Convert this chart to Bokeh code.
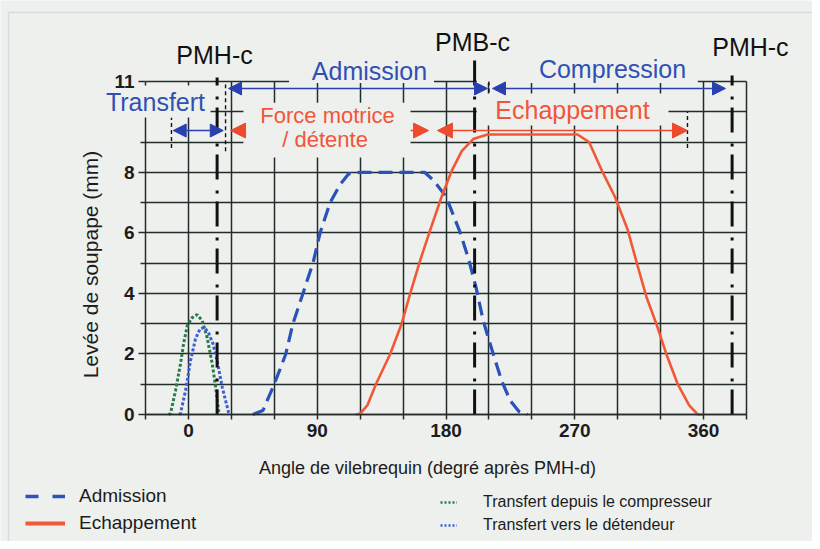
import math
from bokeh.plotting import figure
from bokeh.models import (Range1d, FixedTicker, Arrow, NormalHead, Label,
                          BoxAnnotation, Legend, LegendItem)
from bokeh.embed import file_html
from bokeh.resources import INLINE

# ---------------- data ----------------
# Admission valve lift (blue dashed)
adm_angle = [45, 52, 59, 64, 68, 73, 80, 87, 92, 99, 106, 112, 120, 140, 165,
             171, 180, 185, 190, 196, 201, 206, 213, 219, 225, 231, 237]
adm_lift = [0, 0.13, 0.9, 1.5, 2.0, 3.0, 4.0, 5.0, 6.0, 7.0, 7.6, 7.95, 8.0, 8.0, 8.0,
            7.75, 7.2, 6.6, 6.0, 5.1, 4.2, 3.1, 2.0, 1.1, 0.45, 0.1, 0]

# Exhaust valve lift (red solid)
ech_angle = [117, 120, 125, 131, 141, 149, 155, 162, 169, 177, 184, 191, 199, 209,
             272, 280, 289, 298, 307, 314, 320, 327, 334, 342, 350, 356, 360]
ech_lift = [0, 0.03, 0.3, 1.0, 2.0, 3.0, 4.0, 5.1, 6.1, 7.2, 8.05, 8.7, 9.1, 9.25,
            9.25, 9.0, 8.05, 7.2, 6.1, 4.9, 3.9, 3.0, 2.0, 1.0, 0.3, 0, 0]

# Transfer from compressor (green dotted)
tc_angle = [-14, -12.6, -9, -5.6, -3.4, -0.8, 2.6, 6, 9.6, 13, 16.6, 19, 21, 22]
tc_lift = [0, 0.03, 0.8, 1.67, 2.35, 2.94, 3.2, 3.3, 3.1, 2.55, 1.67, 0.9, 0.13, 0]

# Transfer towards expander (blue dotted)
td_angle = [-6.5, -5.6, -2, 1.4, 4.9, 8, 11, 14, 17, 20, 23.6, 28, 29]
td_lift = [0, 0.03, 0.8, 1.78, 2.5, 2.82, 2.88, 2.7, 2.35, 1.78, 0.9, 0.07, 0]

x_tick_values = [0, 90, 180, 270, 360]
x_grid_values = list(range(-30, 391, 30))
y_tick_values = [0, 2, 4, 6, 8, 11]
y_grid_values = list(range(0, 12))

dead_centre_angles = [20, 200, 380]
dead_centre_tops = [11.13, 11.93, 11.2]
dead_centre_labels = ["PMH-c", "PMB-c", "PMH-c"]

# ---------------- styles ----------------
FONT = "Liberation Sans"
BG = "#eef0ed"
GRID = "#222d2b"
BLUE_TXT = "#3050b4"
BLUE_ARR = "#2b40b0"
RED_TXT = "#f1563a"
RED_ARR = "#ee4a2e"
RED_LINE = "#f25836"
BLUE_LINE = "#2a52b8"
GREEN_DOT = "#2c7a4c"
BLUE_DOT = "#3d5fd6"

W, H = 812, 541
PX_DEG = 515 / 360.0      # pixels per degree
PX_MM = 333 / 11.0        # pixels per mm
X0_PX, Y0_PX = 188, 414   # pixel position of (0, 0)

p = figure(width=W, height=H, output_backend="svg", toolbar_location=None, title=None,
           x_range=Range1d(-X0_PX / PX_DEG, (W - X0_PX) / PX_DEG),
           y_range=Range1d(-(H - Y0_PX) / PX_MM, Y0_PX / PX_MM),
           min_border=0, min_border_left=0, min_border_right=0,
           min_border_top=0, min_border_bottom=0,
           background_fill_color=BG, border_fill_color=BG, outline_line_color=None)

# axes placed inside the frame
p.xaxis.fixed_location = 0
p.yaxis.fixed_location = -30
p.xaxis.bounds = (-30, 390)
p.yaxis.bounds = (0, 11)
p.xaxis.ticker = FixedTicker(ticks=x_tick_values,
                             minor_ticks=[v for v in x_grid_values if v not in x_tick_values])
p.yaxis.ticker = FixedTicker(ticks=y_tick_values, minor_ticks=[1, 3, 5, 7, 9])
for ax in (p.xaxis, p.yaxis):
    ax.major_tick_line_color = GRID
    ax.minor_tick_line_color = GRID
    ax.major_tick_line_width = 1.5
    ax.minor_tick_line_width = 1.5
    ax.major_tick_in = 0
    ax.minor_tick_in = 0
    ax.major_label_text_font = FONT
    ax.major_label_text_font_size = "19px"
    ax.major_label_text_font_style = "bold"
    ax.major_label_text_color = "#1c1c1c"
    ax.major_label_standoff = 4
p.xaxis.axis_line_color = GRID
p.xaxis.axis_line_width = 1.6
p.xaxis.major_tick_out = 5
p.xaxis.minor_tick_out = 5
p.yaxis.axis_line_color = None
p.yaxis.major_tick_out = 7
p.yaxis.minor_tick_out = 5

p.xgrid.ticker = FixedTicker(ticks=x_grid_values)
p.ygrid.ticker = FixedTicker(ticks=y_grid_values)
p.xgrid.cross_bounds = (0, 11)
p.ygrid.cross_bounds = (-30, 390)
p.grid.grid_line_color = GRID
p.grid.grid_line_width = 1.5
p.grid.grid_line_alpha = 1

# outer frame of the figure
p.add_layout(BoxAnnotation(left=8, right=W + 20, bottom=-20, top=H - 12,
                           left_units="screen", right_units="screen",
                           bottom_units="screen", top_units="screen",
                           fill_alpha=0, line_color="#9aabbc", line_width=1.3,
                           level="underlay"))

# masks behind the text blocks (hide the grid there)
for l, r, b, t in [(-62, 15.4, 9.81, 10.87),       # Transfert
                   (70.3, 171.6, 10.95, 11.5),     # Admission
                   (201.5, 356, 10.95, 11.5),      # Compression
                   (201.5, 335.5, 9.55, 10.6),     # Echappement
                   (38.4, 155.2, 8.49, 10.3)]:     # Force motrice
    p.add_layout(BoxAnnotation(left=l, right=r, bottom=b, top=t, fill_color=BG,
                               fill_alpha=1, line_color=None, level="underlay"))

# curves
r_tc = p.line(tc_angle, tc_lift, line_color=GREEN_DOT, line_width=3, line_dash="3 2")
r_td = p.line(td_angle, td_lift, line_color=BLUE_DOT, line_width=3, line_dash="3 2")
r_adm = p.line(adm_angle, adm_lift, line_color=BLUE_LINE, line_width=3.2, line_dash="14 7")
r_ech = p.line(ech_angle, ech_lift, line_color=RED_LINE, line_width=2.6)

# dead-centre dash-dot lines
for a, top in zip(dead_centre_angles, dead_centre_tops):
    p.line([a, a], [0, top], line_color="#111111", line_width=3, line_dash="25 8 3 11")

# thin dashed phase markers
for a, y0, y1 in [(-11.9, 8.8, 9.8), (25.9, 8.7, 10.9), (210, 10.64, 11.03), (348.8, 8.8, 10.0)]:
    p.line([a, a], [y0, y1], line_color="#111111", line_width=1.4, line_dash="4 3")

# arrows
def harrow(x0, x1, y, color, size, both=True):
    p.add_layout(Arrow(x_start=x0, y_start=y, x_end=x1, y_end=y,
                       start=NormalHead(size=size, fill_color=color, line_color=color) if both else None,
                       end=NormalHead(size=size, fill_color=color, line_color=color),
                       line_color=color, line_width=1.6))

harrow(-10.7, 24.3, 9.38, BLUE_ARR, 13)
harrow(28, 209, 10.77, BLUE_ARR, 13)
harrow(212.5, 375.4, 10.77, BLUE_ARR, 13)
harrow(38.4, 29.4, 9.38, RED_ARR, 15, both=False)
harrow(155.2, 167.8, 9.38, RED_ARR, 15, both=False)
harrow(174, 348.8, 9.38, RED_ARR, 15)

# texts
def lab(x, y, text, color, size):
    p.add_layout(Label(x=x, y=y, text=text, text_color=color, text_font=FONT,
                       text_font_size=size, text_align="center", text_baseline="alphabetic"))

for t, x, y in zip(dead_centre_labels, [18.2, 198.5, 392.8], [11.86, 12.29, 12.13]):
    lab(x, y, t, "#111111", "25px")
lab(-23.1, 10.31, "Transfert", BLUE_TXT, "25px")
lab(126.5, 11.36, "Admission", BLUE_TXT, "25px")
lab(296.4, 11.40, "Compression", BLUE_TXT, "25px")
lab(268.4, 10.07, "Echappement", RED_TXT, "25px")
lab(97.2, 9.87, "Force motrice", RED_TXT, "22px")
lab(95.5, 9.10, "/ détente", RED_TXT, "22px")

# axis titles (screen units, frame = whole canvas)
p.add_layout(Label(x=90, y=H - 264, x_units="screen", y_units="screen",
                   text="Levée de soupape (mm)", angle=math.pi / 2,
                   text_font=FONT, text_font_size="21px", text_color="#1c1c1c",
                   text_align="center", text_baseline="middle"))
p.add_layout(Label(x=427, y=H - 467, x_units="screen", y_units="screen",
                   text="Angle de vilebrequin (degré après PMH-d)",
                   text_font=FONT, text_font_size="18px", text_color="#1c1c1c",
                   text_align="center", text_baseline="middle"))

# legend samples (renderers with one undefined point, carrying the legend line styles)
nan = [float("nan")]
lg_adm = p.line(nan, nan, line_color=BLUE_LINE, line_width=3.5, line_dash="13 14")
lg_ech = p.line(nan, nan, line_color=RED_LINE, line_width=4)
lg_tc = p.line(nan, nan, line_color=GREEN_DOT, line_width=2.5, line_dash="2 2")
lg_td = p.line(nan, nan, line_color=BLUE_DOT, line_width=2.5, line_dash="2 2")

leg1 = Legend(items=[LegendItem(label="Admission", renderers=[lg_adm]),
                     LegendItem(label="Echappement", renderers=[lg_ech])],
              location=(25, H - 534), label_text_font=FONT, label_text_font_size="19px",
              label_text_color="#1c1c1c", glyph_width=40, glyph_height=22, label_height=22,
              label_standoff=14, spacing=5, padding=0, margin=0,
              background_fill_alpha=0, border_line_alpha=0)
leg2 = Legend(items=[LegendItem(label="Transfert depuis le compresseur", renderers=[lg_tc]),
                     LegendItem(label="Transfert vers le détendeur", renderers=[lg_td])],
              location=(440, H - 534), label_text_font=FONT, label_text_font_size="16px",
              label_text_color="#1c1c1c", glyph_width=17, glyph_height=16, label_height=16,
              label_standoff=26, spacing=5, padding=0, margin=0,
              background_fill_alpha=0, border_line_alpha=0)
p.add_layout(leg1)
p.add_layout(leg2)

open("out.html", "w").write(file_html(p, INLINE))
